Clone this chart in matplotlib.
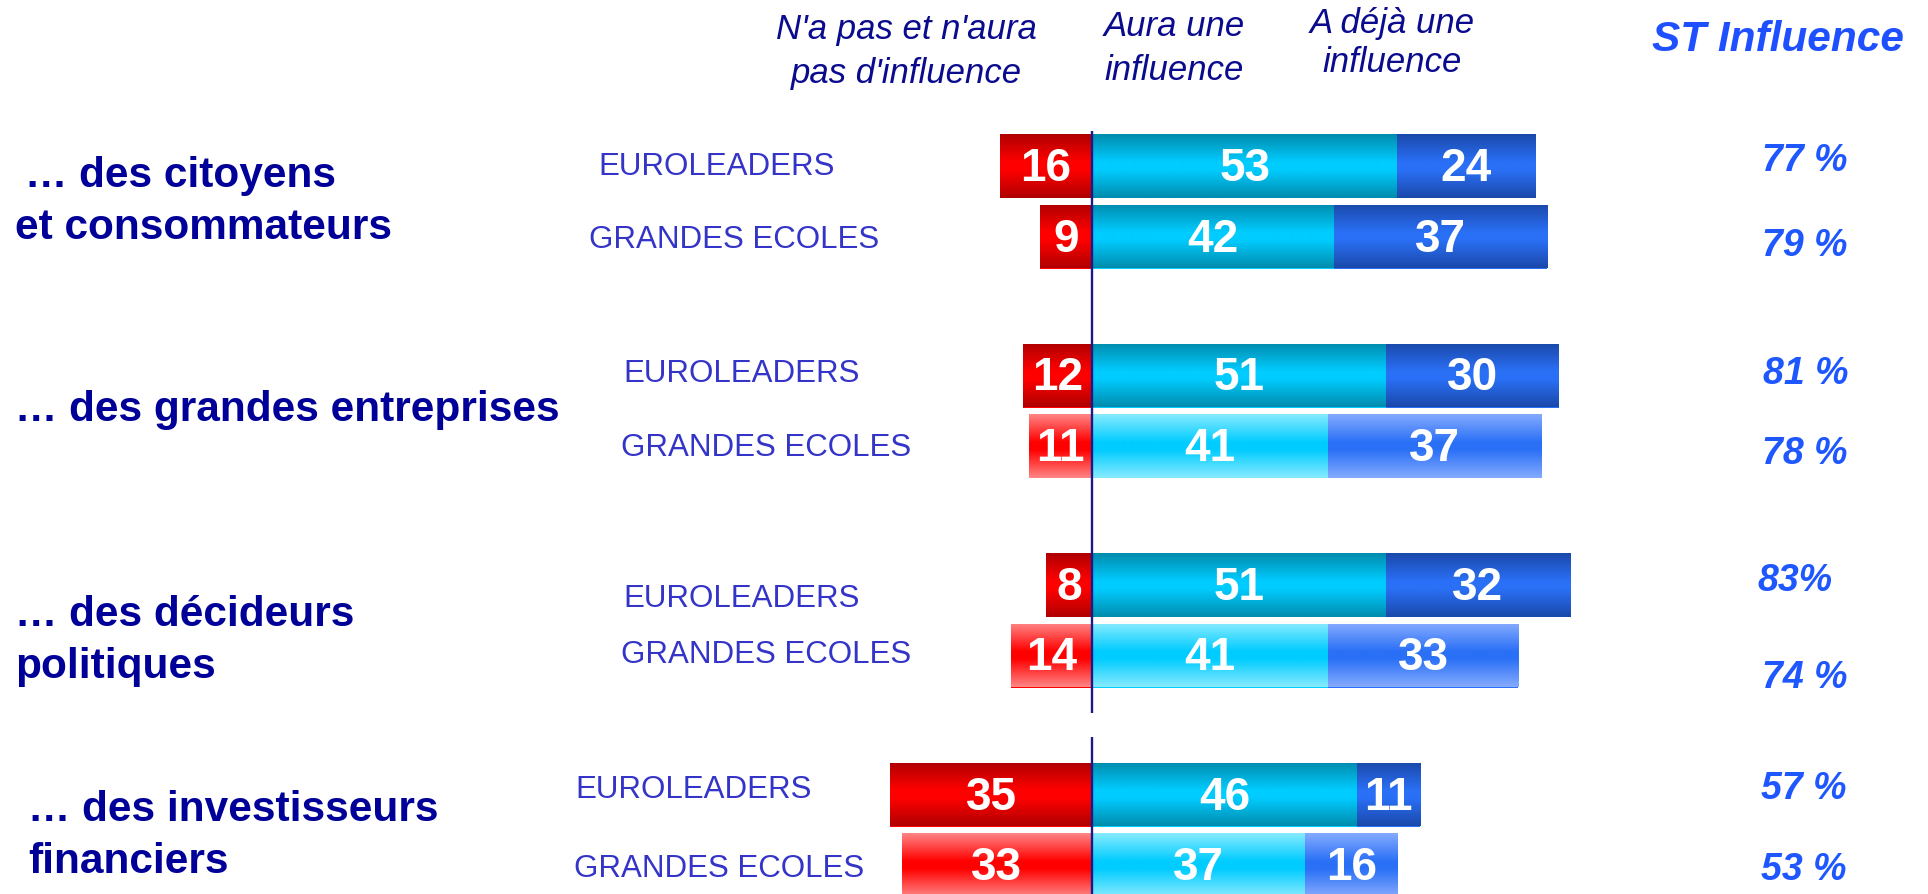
import numpy as np
import matplotlib
matplotlib.use("Agg")
import matplotlib.pyplot as plt
from matplotlib.colors import to_rgb

# ---------------- data ----------------
categories = ["… des citoyens\net consommateurs",
              "… des grandes entreprises",
              "… des décideurs\npolitiques",
              "… des investisseurs\nfinanciers"]
respondents = ["EUROLEADERS", "GRANDES ECOLES"]
no_influence = [16, 9, 12, 11, 8, 14, 35, 33]
will_influence = [53, 42, 51, 41, 51, 41, 46, 37]
already_influence = [24, 37, 30, 37, 32, 33, 11, 16]
st_influence = ["77 %", "79 %", "81 %", "78 %", "83%", "74 %", "57 %", "53 %"]
light_style = [False, False, False, True, False, True, False, True]
headers = ["N'a pas et n'aura\npas d'influence", "Aura une\ninfluence", "A déjà une\ninfluence"]
st_title = "ST Influence"

# ---------------- layout (pixels) ----------------
W, H = 1928, 894
ZERO_X = 1092
PX_PER_UNIT = 5.76
ROW0 = 166
GROUP_PITCH = 209.5
ROW_GAP = 70.5
BAR_H = 64

plt.rcParams['font.family'] = ['Liberation Sans', 'DejaVu Sans']

fig = plt.figure(figsize=(W / 100, H / 100), dpi=100)
fig.patch.set_facecolor("white")
ax = fig.add_axes([0, 0, 1, 1])
ax.set_axis_off()

def fx(px):
    return px / W

def fy(py):
    return 1 - py / H

# gradient palettes: (edge, center)
dark = {"red": ("#B00000", "#FF0000"),
        "cyan": ("#008CAE", "#00CCFF"),
        "blue": ("#1B49AB", "#2A70F6")}
light = {"red": ("#FF8484", "#FF0000"),
         "cyan": ("#86EAFF", "#00CCFF"),
         "blue": ("#84AAFF", "#2A70F6")}

def grad_image(edge, center, n=64):
    e = np.array(to_rgb(edge))
    c = np.array(to_rgb(center))
    t = np.abs(np.linspace(-1, 1, n))
    t = np.clip((t - 0.12) / 0.88, 0, 1) ** 1.0
    img = c[None, :] * (1 - t[:, None]) + e[None, :] * t[:, None]
    return img[:, None, :]

n_rows = len(no_influence)
ycent = []
for i in range(n_rows):
    g, r = divmod(i, 2)
    ycent.append(ROW0 + g * GROUP_PITCH + r * ROW_GAP)

for i in range(n_rows):
    y = ycent[i]
    pal = light if light_style[i] else dark
    segs = [(-no_influence[i], no_influence[i], "red"),
            (0, will_influence[i], "cyan"),
            (will_influence[i], already_influence[i], "blue")]
    for left, width, key in segs:
        edge, center = pal[key]
        bars = ax.barh(y, width, left=left, height=BAR_H, color=center, linewidth=0)
        patch = bars.patches[0]
        im = ax.imshow(grad_image(edge, center), extent=[left, left + width, y + BAR_H / 2, y - BAR_H / 2],
                       aspect='auto', interpolation='bilinear', zorder=2)
        im.set_clip_path(patch)
        ax.text(left + width / 2, y + 3, str(width), color="white", fontsize=33,
                fontweight="bold", ha="center", va="center", zorder=5, clip_on=True)

ax.set_xlim(-ZERO_X / PX_PER_UNIT, (W - ZERO_X) / PX_PER_UNIT)
ax.set_ylim(H, 0)

# zero line (two segments)
ax.plot([0, 0], [131, 713], color="#1A1A8C", lw=1.7, zorder=6, solid_capstyle="butt")
ax.plot([0, 0], [737, H], color="#1A1A8C", lw=1.7, zorder=6, solid_capstyle="butt")

# headers
header_x = [906, 1174, 1392]
header_y = [[29, 73], [27, 70], [23, 63]]
for txt, x, ys in zip(headers, header_x, header_y):
    for line, yy in zip(txt.split("\n"), ys):
        fig.text(fx(x), fy(yy), line, fontsize=25, style="italic", color="#0B0B8E",
                 ha="center", va="center")
fig.text(fx(1778), fy(40), st_title, fontsize=30.5, style="italic", fontweight="bold",
         color="#1F50FF", ha="center", va="center")

# category labels
cat_x = [[25, 15], [15], [15, 15], [28, 28]]
cat_y = [176, 410, 615, 810]
for cat, xs, y0 in zip(categories, cat_x, cat_y):
    for k, (line, x) in enumerate(zip(cat.split("\n"), xs)):
        fig.text(fx(x), fy(y0 + k * 52), line, fontsize=30.5, fontweight="bold",
                 color="#000099", ha="left", va="center")

# respondent labels
resp_x = [598, 589, 623, 621, 623, 621, 575, 574]
resp_y = [167, 240, 374, 448, 599, 655, 790, 869]
for i in range(n_rows):
    fig.text(fx(resp_x[i]), fy(resp_y[i]), respondents[i % 2], fontsize=22.5,
             color="#3434C8", ha="left", va="center")

# ST influence
pct_x = [1762, 1762, 1763, 1762, 1757, 1762, 1761, 1761]
pct_y = [161, 246, 374, 454, 581, 678, 789, 870]
for i in range(n_rows):
    fig.text(fx(pct_x[i]), fy(pct_y[i]), st_influence[i], fontsize=27, style="italic",
             fontweight="bold", color="#1F57FF", ha="left", va="center")

fig.savefig("out.png", dpi=100, facecolor="white")
